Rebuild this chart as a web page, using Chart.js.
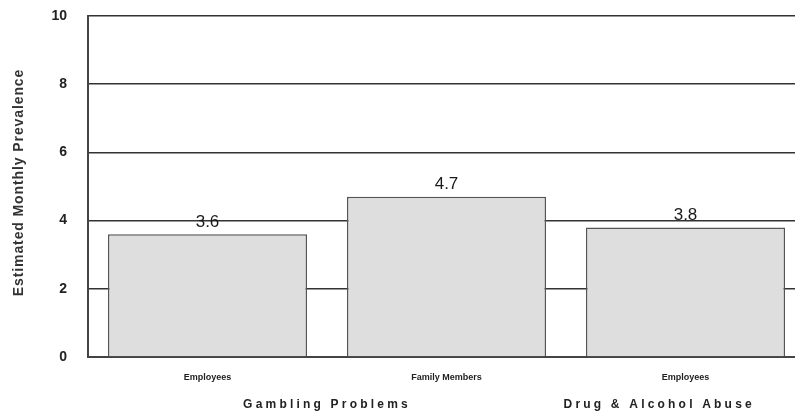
<!DOCTYPE html>
<html>
<head>
<meta charset="utf-8">
<script src="https://cdn.jsdelivr.net/npm/chart.js@4/dist/chart.umd.min.js"></script>
<style>
  html, body { margin: 0; padding: 0; background: #fff; overflow: hidden; }
  #wrap { width: 810px; height: 419px; position: relative; }
</style>
</head>
<body>
<div id="wrap"><canvas id="prevChart"></canvas></div>
<script>
const categories = ['Employees', 'Family Members', 'Employees'];
const prevalence = [3.6, 4.7, 3.8];
const groups = ['Gambling Problems', 'Drug & Alcohol Abuse'];
const yTitle = 'Estimated Monthly Prevalence';
// where each group label sits along the category axis (index units)
const groupPos = [0.5, 1.89];

const barLabels = {
  id: 'barLabels',
  afterDatasetsDraw(chart) {
    const ctx = chart.ctx;
    const meta = chart.getDatasetMeta(0);
    ctx.save();
    ctx.font = '17px Arial, "Liberation Sans"';
    ctx.fillStyle = '#1a1a1a';
    ctx.textAlign = 'center';
    ctx.textBaseline = 'middle';
    meta.data.forEach((bar, i) => {
      ctx.fillText(prevalence[i].toFixed(1), bar.x, bar.y - 12);
    });
    ctx.restore();
  },
  afterDraw(chart) {
    const ctx = chart.ctx;
    const x = chart.scales.x;
    const y = chart.scales.y;
    ctx.save();
    ctx.font = 'bold 12px Arial, "Liberation Sans"';
    ctx.letterSpacing = '3.2px';
    ctx.fillStyle = '#222';
    ctx.textAlign = 'center';
    ctx.textBaseline = 'middle';
    groups.forEach((g, i) => {
      ctx.fillText(g, x.getPixelForValue(groupPos[i]), 405);
    });
    ctx.restore();

    // y axis title, a bit letter-spaced like the original
    ctx.save();
    ctx.font = 'bold 14px Arial, "Liberation Sans"';
    ctx.letterSpacing = '0.9px';
    ctx.fillStyle = '#333';
    ctx.textAlign = 'center';
    ctx.textBaseline = 'middle';
    ctx.translate(19, (y.top + y.bottom) / 2 - 4);
    ctx.rotate(-Math.PI / 2);
    ctx.fillText(yTitle, 0, 0);
    ctx.restore();
  }
};

new Chart(document.getElementById('prevChart'), {
  type: 'bar',
  data: {
    labels: categories,
    datasets: [{
      data: prevalence,
      backgroundColor: '#dedede',
      borderColor: '#555',
      borderWidth: 1.5,
      categoryPercentage: 1.0,
      barPercentage: 0.833
    }]
  },
  plugins: [barLabels],
  options: {
    responsive: true,
    maintainAspectRatio: false,
    animation: false,
    layout: { padding: { top: 16, right: 5, left: 0, bottom: 0 } },
    plugins: {
      legend: { display: false },
      tooltip: { enabled: false }
    },
    scales: {
      x: {
        grid: { display: false },
        border: { display: true, color: '#444', width: 2 },
        ticks: {
          color: '#222',
          font: { family: 'Arial, "Liberation Sans"', size: 9, weight: 'bold' },
          padding: 7
        },
        afterFit(scale) { scale.height = 62; }
      },
      y: {
        min: 0,
        max: 10,
        ticks: {
          stepSize: 2,
          color: '#222',
          font: { family: 'Arial, "Liberation Sans"', size: 14, weight: 'bold' },
          padding: 21
        },
        grid: { color: '#333', lineWidth: 1.5, drawTicks: false },
        border: { display: true, color: '#444', width: 2 },
        afterFit(scale) {
          scale.width = 88;
          scale.paddingTop = 0;
          scale.paddingBottom = 0;
        }
      }
    }
  }
});
</script>
</body>
</html>
